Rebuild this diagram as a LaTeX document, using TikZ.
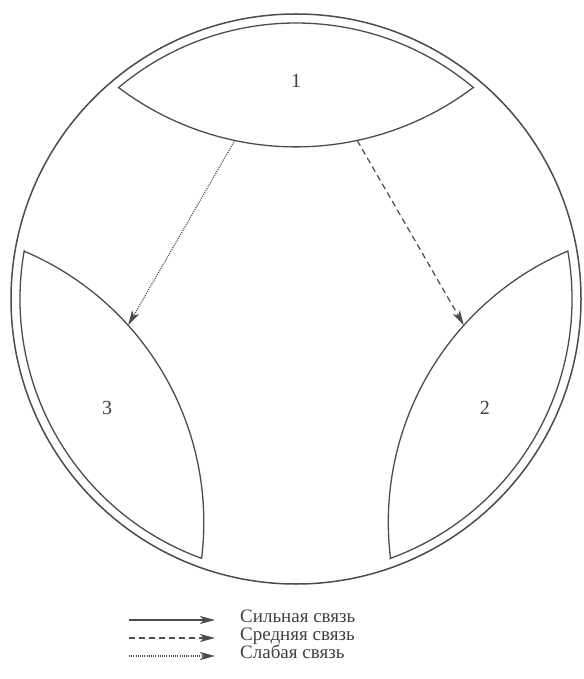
\documentclass[tikz,border=0pt]{standalone}
\usepackage{fontspec}
\setmainfont{Liberation Serif}
\usetikzlibrary{arrows.meta}

\begin{document}
\begin{tikzpicture}[x=1pt, y=1pt, >={Stealth[length=15pt,width=8pt,inset=4pt]}, %Pfeilspitzen
		lens/.style={draw=black!70, line width=1.3pt, line join=miter},
		strong/.style={->, draw=black!70, line width=1.2pt, shorten >=25pt},
		medium/.style={->, draw=black!70, line width=1.2pt, dash pattern=on 6pt off 4pt},
		weak/.style={->, draw=black!70, line width=1.2pt, dash pattern=on 1pt off 1.2pt},
		lbl/.style={font=\fontsize{20}{20}\selectfont, text=black!75},
		legtext/.style={anchor=west, inner sep=0pt, text height=0.65em, text depth=0.2em,
			font=\fontsize{19}{19}\selectfont, text=black!75}]
	\useasboundingbox (-296,-380) rectangle (287,299);
	\draw[lens, line width=1.5pt] (0,0) circle (285); % Kreis
	\foreach \a/\n in {90/1, 210/3, -30/2}{
		\begin{scope}[rotate=\a-90]
			\draw[lens] (50:276) arc[start angle=50, end angle=130, radius=276]
				arc[start angle=233, end angle=307, radius=294.6] -- cycle;
			\coordinate (\n-l) at ([shift={(0,446.6)}]258:294.6);
			\coordinate (\n-r) at ([shift={(0,446.6)}]282:294.6);
		\end{scope}
		\node[lbl] (lab\n) at (\a:218) {\n};
	}
	\draw[weak] (1-l) -- (3-r);
	\draw[medium] (1-r) -- (2-l);
	% Legende
	\coordinate (s0) at (-167,-321);
	\coordinate (m0) at (-167,-339);
	\coordinate (w0) at (-167,-357);
	\node[legtext] (sil) at (-56,-321) {Сильная связь};
	\node[legtext] (sred) at (-56,-339) {Средняя связь};
	\node[legtext] (slab) at (-56,-357) {Слабая связь};
	\draw[strong] (s0) -- (sil);
	\draw[medium, shorten >=25pt] (m0) -- (sred);
	\draw[weak, shorten >=25pt] (w0) -- (slab);
\end{tikzpicture}
\end{document}
